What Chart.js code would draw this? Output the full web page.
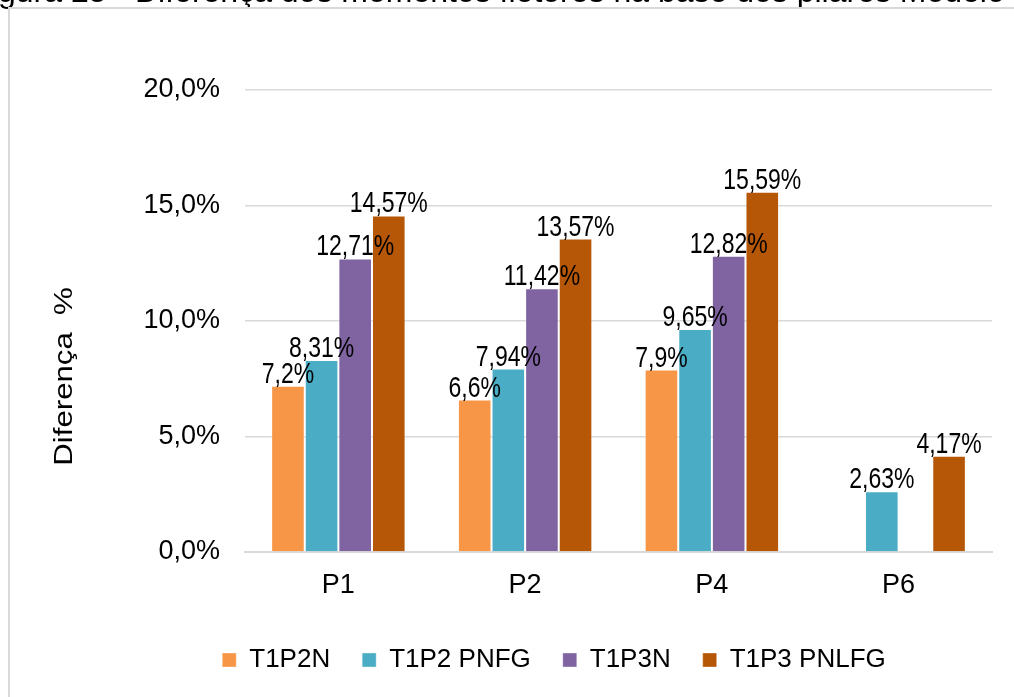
<!DOCTYPE html>
<html>
<head>
<meta charset="utf-8">
<script src="https://cdn.jsdelivr.net/npm/chart.js@4/dist/chart.umd.min.js"></script>
<style>
  body { margin: 0; background: #fff; }
  #wrap { position: relative; width: 1014px; height: 697px; overflow: hidden; }
  #frame { position: absolute; left: 8px; top: 7px; right: -4px; bottom: -4px;
           border-left: 2px solid #d9d9d9; border-top: 2px solid #d9d9d9; }
</style>
</head>
<body>
<div id="wrap">
  <canvas id="chart" width="1014" height="697"></canvas>
  <div id="frame"></div>
</div>
<script>
const categories = ['P1', 'P2', 'P4', 'P6'];
const seriesNames = ['T1P2N', 'T1P2 PNFG', 'T1P3N', 'T1P3 PNLFG'];
const t1p2n = [7.2, 6.6, 7.9, null];
const t1p2pnfg = [8.31, 7.94, 9.65, 2.63];
const t1p3n = [12.71, 11.42, 12.82, null];
const t1p3pnlfg = [14.57, 13.57, 15.59, 4.17];
const yTicks = [0, 5, 10, 15, 20];
const axisTitle = 'Diferença  %';
const captionText = 'gura 25 - Diferença dos momentos fletores na base dos pilares Modelo';

const colors = ['#f79646', '#4bacc6', '#8064a2', '#b65708'];
const font = "'Liberation Sans', Arial, sans-serif";

function pct(v) {
  return String(v).replace('.', ',') + '%';
}

// value labels above bars
const barLabels = {
  id: 'barLabels',
  afterDatasetsDraw(chart) {
    const ctx = chart.ctx;
    ctx.save();
    ctx.fillStyle = '#000';
    ctx.font = '23px ' + font;
    ctx.textAlign = 'center';
    ctx.textBaseline = 'alphabetic';
    chart.data.datasets.forEach((ds, i) => {
      chart.getDatasetMeta(i).data.forEach((bar, j) => {
        const v = ds.data[j];
        if (v === null) return;
        ctx.save();
        ctx.translate(bar.x, bar.y - 3);
        ctx.scale(1, 1.25);
        ctx.fillText(pct(v), 0, 0);
        ctx.restore();
      });
    });
    ctx.restore();
  }
};

// legend sits a bit right of centre in the original
const legendShift = {
  id: 'legendShift',
  afterLayout(chart) {
    chart.legend.left += 58;
    chart.legend.right += 58;
  }
};

// y axis title + cut caption at the top
const extraText = {
  id: 'extraText',
  afterDraw(chart) {
    const ctx = chart.ctx;
    const area = chart.chartArea;
    ctx.save();
    ctx.fillStyle = '#000';
    ctx.font = '26px ' + font;
    ctx.textAlign = 'center';
    ctx.textBaseline = 'middle';
    ctx.translate(65, area.top + (area.bottom - area.top) * 0.62);
    ctx.rotate(-Math.PI / 2);
    ctx.scale(1.2, 1);
    ctx.fillText(axisTitle, 0, 0);
    ctx.restore();

    ctx.save();
    ctx.fillStyle = '#000';
    ctx.font = '32px ' + font;
    ctx.textAlign = 'left';
    ctx.textBaseline = 'alphabetic';
    ctx.fillText(captionText, -2, 2);
    ctx.restore();
  }
};

new Chart(document.getElementById('chart'), {
  type: 'bar',
  data: {
    labels: categories,
    datasets: [t1p2n, t1p2pnfg, t1p3n, t1p3pnlfg].map((d, i) => ({
      label: seriesNames[i],
      data: d,
      backgroundColor: colors[i],
      borderColor: 'rgba(255,255,255,0.35)',
      borderWidth: 1,
      categoryPercentage: 0.72,
      barPercentage: 1
    }))
  },
  options: {
    responsive: false,
    animation: false,
    layout: { padding: { top: 90, right: 22, bottom: 14, left: 0 } },
    plugins: {
      legend: {
        position: 'bottom',
        labels: {
          boxWidth: 14,
          boxHeight: 14,
          padding: 32,
          color: '#000',
          font: { family: font, size: 26 }
        }
      },
      tooltip: { enabled: false }
    },
    scales: {
      x: {
        grid: { display: false, drawTicks: false },
        border: { color: '#d9d9d9', width: 2 },
        ticks: { color: '#000', padding: 17, font: { family: font, size: 27 } },
        afterFit(scale) { scale.height = 63; }
      },
      y: {
        min: 0,
        max: 20,
        afterBuildTicks(scale) { scale.ticks = yTicks.map(v => ({ value: v })); },
        grid: { color: '#d9d9d9', lineWidth: 1.5, drawTicks: false },
        border: { display: false },
        ticks: {
          color: '#000',
          padding: 25,
          font: { family: font, size: 27 },
          callback: v => v.toFixed(1).replace('.', ',') + '%'
        },
        afterFit(scale) { scale.width = 245; }
      }
    }
  },
  plugins: [barLabels, legendShift, extraText]
});
</script>
</body>
</html>
